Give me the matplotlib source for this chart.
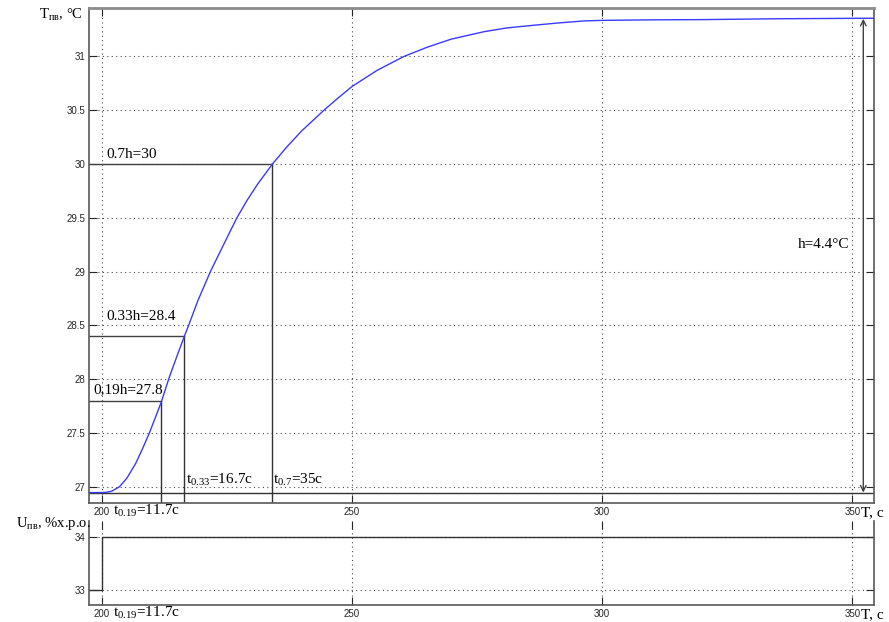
import matplotlib.pyplot as plt
import numpy as np

plt.rcParams['font.family'] = ['Liberation Sans Narrow', 'Liberation Sans', 'DejaVu Sans']
plt.rcParams['mathtext.fontset'] = 'custom'
plt.rcParams['mathtext.rm'] = 'Liberation Serif'

# temperature response
t_curve = [197.5, 200.0, 201.0, 202.0, 203.5, 205.0, 206.8, 208.0, 209.5, 211.0,
           211.9, 213.5, 215.3, 216.5, 217.1, 219.2, 221.7, 223.7, 225.5, 227.0,
           229.0, 231.1, 234.1, 237.0, 240.0, 244.4, 247.0, 250.0, 255.0, 260.4,
           265.0, 269.8, 276.4, 281.0, 286.4, 291.0, 296.4, 300.0, 310.0, 320.0,
           335.0, 354.4]
T_curve = [26.947, 26.947, 26.95, 26.96, 27.0, 27.08, 27.22, 27.34, 27.5, 27.68,
           27.79, 28.02, 28.25, 28.4, 28.47, 28.73, 29.0, 29.19, 29.36, 29.5,
           29.66, 29.81, 30.0, 30.16, 30.31, 30.5, 30.605, 30.72, 30.87, 31.0,
           31.085, 31.16, 31.23, 31.265, 31.29, 31.31, 31.33, 31.335, 31.34, 31.342,
           31.35, 31.355]

# control signal step
t_u = [197.5, 200.0, 200.0, 354.4]
u = [33, 33, 34, 34]

T0 = 26.947
T_end = 31.35
levels = [27.8, 28.4, 30.0]
t_levels = [211.9, 216.5, 234.1]
level_labels = ['0,19h=27.8', '0.33h=28.4', '0.7h=30']
level_label_pos = [(198.3, 27.87), (201.0, 28.55), (201.0, 30.06)]
time_labels = [r'$\mathregular{t_{0.33}}$=16.7c', r'$\mathregular{t_{0.7}}$=35c']
time_label_x = [216.9, 234.2]

xmin, xmax = 197.5, 354.4
serif = {'family': ['Liberation Serif', 'DejaVu Serif'], 'size': 11}

fig = plt.figure(figsize=(8.89, 6.22), dpi=100)
ax = fig.add_axes([89.3/889, 1-503/622, 785/889, 495/622])
ax2 = fig.add_axes([89.3/889, 1-605/622, 785/889, 84/622])

for a in (ax, ax2):
    a.set_xlim(xmin, xmax)
    a.set_xticks([200, 250, 300, 350])
    a.tick_params(direction='in', length=6, width=0.8, top=True, right=True,
                  labelsize=7, colors='0.15', pad=3)
    a.grid(True, linestyle=(0, (1, 3)), color='0.3', linewidth=0.8)
    for s in a.spines.values():
        s.set_color('0.35')
        s.set_linewidth(1.2)

# upper plot
ax.set_ylim(26.85, 31.45)
ax.set_yticks([27, 27.5, 28, 28.5, 29, 29.5, 30, 30.5, 31])
ax.set_yticklabels(['27', '27.5', '28', '28.5', '29', '29.5', '30', '30.5', '31'])
ax.spines['top'].set_color('0.55')
ax.spines['top'].set_linewidth(2)

ax.plot(t_curve, T_curve, color='#3a3aff', linewidth=1, zorder=3)
ax.axhline(T0, color='0.2', linewidth=1)

for lvl, tl, lab, pos in zip(levels, t_levels, level_labels, level_label_pos):
    ax.plot([xmin, tl], [lvl, lvl], color='0.25', linewidth=1)
    ax.plot([tl, tl], [26.85, lvl], color='0.2', linewidth=1)
    ax.text(pos[0], pos[1], lab, fontdict=serif, ha='left', va='baseline')

for lab, x in zip(time_labels, time_label_x):
    ax.text(x, 27.03, lab, fontdict=serif, ha='left', va='baseline')

ax.annotate('', xy=(352.2, T_end), xytext=(352.2, T0),
            arrowprops=dict(arrowstyle='<->', color='0.25', lw=1, shrinkA=0, shrinkB=0))
ax.text(349.5, 29.22, 'h=4.4°C', fontdict=serif, ha='right', va='baseline')

# lower plot
ax2.set_ylim(32.72, 34.3)
ax2.set_yticks([33, 34])
ax2.spines['top'].set_visible(False)
ax2.plot(t_u, u, color='0.2', linewidth=1)

for a in (ax, ax2):
    a.annotate(r'$\mathregular{t_{0.19}}$=11.7c', xy=(200, 0), xycoords=('data', 'axes fraction'),
               xytext=(8, -8.6), textcoords='offset points', ha='left', va='baseline', **serif)
    a.annotate('T, c', xy=(350, 0), xycoords=('data', 'axes fraction'),
               xytext=(6.5, -9.5), textcoords='offset points', ha='left', va='baseline', **serif)

fig.text(83/889, 1-19.3/622, r'$\mathregular{T_{пв}}$, °C', ha='right', va='baseline',
         family=['Liberation Serif', 'DejaVu Serif'], size=10.5)
fig.text(90.7/889, 1-527.3/622, r'$\mathregular{U_{пв}}$, %х.р.о.', ha='right', va='baseline',
         family=['Liberation Serif', 'DejaVu Serif'], size=10.5)

plt.savefig('out.png', dpi=100)
